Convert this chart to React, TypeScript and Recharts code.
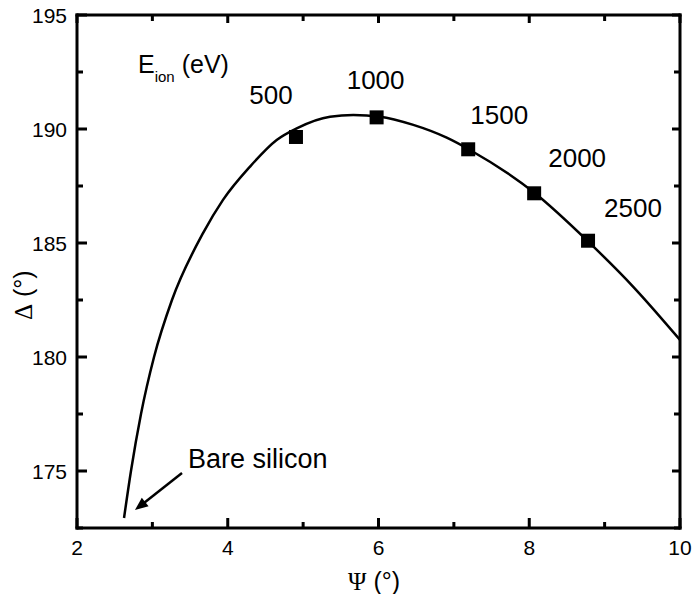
import React from 'react';
import { ComposedChart, Line, Scatter, XAxis, YAxis, ReferenceLine, Customized } from 'recharts';

// Fitted curve
const CURVE_PSI = [2.624, 2.716, 2.849, 3.022, 3.26, 3.672, 3.937, 4.295, 4.649, 4.915, 5.357, 5.666, 6.02, 6.462, 6.905, 7.214, 8.076, 8.783, 9.38, 10.0];
const CURVE_DELTA = [172.94, 175.0, 177.5, 180.0, 182.5, 185.43, 186.89, 188.35, 189.52, 190.03, 190.54, 190.61, 190.54, 190.18, 189.62, 189.08, 187.18, 185.06, 183.08, 180.75];

// Measured points
const ENERGY = [500, 1000, 1500, 2000, 2500];
const POINT_PSI = [4.905, 5.975, 7.19, 8.065, 8.78];
const POINT_DELTA = [189.65, 190.51, 189.11, 187.18, 185.1];

// Axis ticks
const X_TICKS = [2, 3, 4, 5, 6, 7, 8, 9, 10];
const X_LABELS = [2, 4, 6, 8, 10];
const Y_TICKS = [172.5, 175, 177.5, 180, 182.5, 185, 187.5, 190, 192.5, 195];
const Y_LABELS = [175, 180, 185, 190, 195];

const X_DOMAIN: [number, number] = [2, 10];
const Y_DOMAIN: [number, number] = [172.5, 195];

// Arrow annotation (data coords)
const ARROW_FROM = { psi: 3.393, delta: 174.91 };
const ARROW_TO = { psi: 2.769, delta: 173.29 };

// Label offsets (px) relative to each point centre
const LABEL_OFFSETS: [number, number][] = [
  [-25, -33],
  [-1, -28],
  [31, -25],
  [43, -26],
  [45, -24],
];

const curveData = CURVE_PSI.map((psi, i) => ({ psi, delta: CURVE_DELTA[i] }));
const pointData = POINT_PSI.map((psi, i) => ({ psi, delta: POINT_DELTA[i], energy: ENERGY[i] }));

// Chart layout
const W = 696;
const H = 594;
const MARGIN = { top: 15, right: 16, bottom: 0, left: 0 };
const Y_AXIS_W = 77;
const X_AXIS_H = 66;
const PLOT = {
  left: MARGIN.left + Y_AXIS_W,
  right: W - MARGIN.right,
  top: MARGIN.top,
  bottom: H - MARGIN.bottom - X_AXIS_H,
};
const px = (v: number) => PLOT.left + ((v - X_DOMAIN[0]) / (X_DOMAIN[1] - X_DOMAIN[0])) * (PLOT.right - PLOT.left);
const py = (v: number) => PLOT.bottom - ((v - Y_DOMAIN[0]) / (Y_DOMAIN[1] - Y_DOMAIN[0])) * (PLOT.bottom - PLOT.top);

const FONT = '"Liberation Sans", Arial, Helvetica, sans-serif';
const SERIF = '"Liberation Serif", "Times New Roman", serif';
const T = 3; // frame / tick thickness

const BottomTickLabel = (props: any) => {
  const { x, y, payload } = props;
  if (!X_LABELS.includes(payload.value)) return <g />;
  return (
    <text x={x} y={y + 27} textAnchor="middle" fontSize={21} fontFamily={FONT} fill="#000">
      {payload.value}
    </text>
  );
};

const LeftTickLabel = (props: any) => {
  const { x, y, payload } = props;
  if (!Y_LABELS.includes(payload.value)) return <g />;
  return (
    <text x={x - 10} y={y + 7.5} textAnchor="end" fontSize={21} fontFamily={FONT} fill="#000">
      {payload.value}
    </text>
  );
};

const SquareWithLabel = (props: any) => {
  const { cx, cy, payload } = props;
  const i = ENERGY.indexOf(payload.energy);
  const off = LABEL_OFFSETS[i] || [0, -30];
  return (
    <g>
      <rect x={cx - 7} y={cy - 7} width={14} height={14} fill="#000" />
      <text x={cx + off[0]} y={cy + off[1]} textAnchor="middle" fontSize={26} fontFamily={FONT} fill="#000">
        {payload.energy}
      </text>
    </g>
  );
};

const ArrowShape = (props: any) => {
  const { x1, y1, x2, y2 } = props;
  const dx = x2 - x1;
  const dy = y2 - y1;
  const len = Math.sqrt(dx * dx + dy * dy) || 1;
  const ux = dx / len;
  const uy = dy / len;
  const hl = 13;
  const hw = 5.5;
  const bx = x2 - ux * hl;
  const by = y2 - uy * hl;
  return (
    <g>
      <line x1={x1} y1={y1} x2={bx + ux * 2} y2={by + uy * 2} stroke="#000" strokeWidth={2.5} />
      <polygon
        points={`${x2},${y2} ${bx - uy * hw},${by + ux * hw} ${bx + uy * hw},${by - ux * hw}`}
        fill="#000"
      />
    </g>
  );
};

// Frame and inward ticks drawn as filled bars
const Frame = () => {
  const h = T / 2;
  const bars: React.ReactNode[] = [
    <rect key="fl" x={PLOT.left - h} y={PLOT.top - h} width={T} height={PLOT.bottom - PLOT.top + T} />,
    <rect key="fr" x={PLOT.right - h} y={PLOT.top - h} width={T} height={PLOT.bottom - PLOT.top + T} />,
    <rect key="ft" x={PLOT.left - h} y={PLOT.top - h} width={PLOT.right - PLOT.left + T} height={T} />,
    <rect key="fb" x={PLOT.left - h} y={PLOT.bottom - h} width={PLOT.right - PLOT.left + T} height={T} />,
  ];
  X_TICKS.forEach((v) => {
    const major = X_LABELS.includes(v);
    const x = px(v);
    const lb = major ? 10 : 6;
    const lt = major ? 8 : 6;
    bars.push(<rect key={`b${v}`} x={x - h} y={PLOT.bottom - lb} width={T} height={lb} />);
    bars.push(<rect key={`t${v}`} x={x - h} y={PLOT.top} width={T} height={lt} />);
  });
  Y_TICKS.forEach((v) => {
    const major = Y_LABELS.includes(v);
    const y = py(v);
    const ll = major ? 10 : 6;
    const lr = major ? 8 : 6;
    bars.push(<rect key={`l${v}`} x={PLOT.left} y={y - h} width={ll} height={T} />);
    bars.push(<rect key={`r${v}`} x={PLOT.right - lr} y={y - h} width={lr} height={T} />);
  });
  return <g fill="#000">{bars}</g>;
};

const Annotations = () => (
  <g>
    <Frame />
    <text x={138} y={73} fontSize={25} fontFamily={FONT} fill="#000">
      E
      <tspan fontSize={15} dy={8.5}>ion</tspan>
      <tspan fontSize={25} dy={-8.5} dx={7}>(eV)</tspan>
    </text>
    <text x={188} y={468} fontSize={27} fontFamily={FONT} fill="#000">
      Bare silicon
    </text>
    <text x={348} y={590} fontSize={25} fontFamily={FONT} fill="#000">
      <tspan fontFamily={SERIF}>Ψ</tspan>
      <tspan> (°)</tspan>
    </text>
    <text transform="translate(32,320) rotate(-90)" fontSize={25} fontFamily={FONT} fill="#000">
      <tspan fontFamily={SERIF}>Δ</tspan>
      <tspan> (°)</tspan>
    </text>
  </g>
);

export default function App() {
  return (
    <div style={{ position: 'absolute', left: 0, top: 0, width: W, height: H, background: '#fff' }}>
      <ComposedChart width={W} height={H} margin={MARGIN}>
        <XAxis
          dataKey="psi"
          type="number"
          domain={X_DOMAIN}
          ticks={X_TICKS}
          interval={0}
          orientation="bottom"
          height={X_AXIS_H}
          tickSize={0}
          tickMargin={0}
          tickLine={false}
          axisLine={false}
          tick={<BottomTickLabel />}
        />
        <YAxis
          dataKey="delta"
          type="number"
          domain={Y_DOMAIN}
          ticks={Y_TICKS}
          interval={0}
          orientation="left"
          width={Y_AXIS_W}
          tickSize={0}
          tickMargin={0}
          tickLine={false}
          axisLine={false}
          tick={<LeftTickLabel />}
        />
        <Line
          data={curveData}
          dataKey="delta"
          type="monotone"
          stroke="#000"
          strokeWidth={2.5}
          dot={false}
          activeDot={false}
          isAnimationActive={false}
        />
        <Scatter
          data={pointData}
          dataKey="delta"
          shape={<SquareWithLabel />}
          isAnimationActive={false}
        />
        <ReferenceLine
          segment={[
            { x: ARROW_FROM.psi, y: ARROW_FROM.delta },
            { x: ARROW_TO.psi, y: ARROW_TO.delta },
          ]}
          shape={<ArrowShape />}
        />
        <Customized component={<Annotations />} />
      </ComposedChart>
    </div>
  );
}
